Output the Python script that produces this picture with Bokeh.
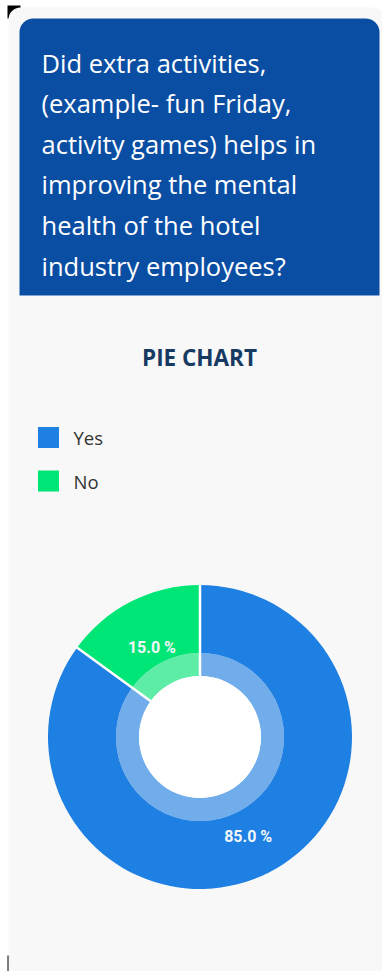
from bokeh.plotting import figure
from bokeh.models import ColumnDataSource, Range1d
from bokeh.core.properties import value
from bokeh.embed import file_html
from bokeh.resources import INLINE
import numpy as np

# ---- data ----
categories = ["Yes", "No"]
percentages = [85.0, 15.0]
colors = ["#1E80E2", "#00E676"]
question_lines = [
    "Did extra activities,",
    "(example- fun Friday,",
    "activity games) helps in",
    "improving the mental",
    "health of the hotel",
    "industry employees?",
]
chart_title = "PIE CHART"

W, H = 382, 971
def Y(py):
    return H - py

p = figure(width=W, height=H, x_range=Range1d(0, W), y_range=Range1d(0, H),
           output_backend="svg", toolbar_location=None, min_border=0)
p.axis.visible = False
p.grid.visible = False
p.outline_line_color = None
p.background_fill_color = "white"
p.border_fill_color = "white"

# phone-corner blacks and card
p.quad(left=[7, 7], right=[20, 20], top=[Y(5), Y(955)], bottom=[Y(18), Y(971)],
       fill_color="black", line_color=None)
p.quad(left=8, right=384, top=Y(7), bottom=Y(985), fill_color="#F8F8F8",
       line_color=None, border_radius=12)

# question box
p.quad(left=19, right=379, top=Y(18), bottom=Y(295), fill_color="#0A4EA3",
       line_color=None, border_radius=[14, 14, 0, 0])
ly = [Y(62 + 40.6 * i) for i in range(len(question_lines))]
p.text(x=[41] * len(question_lines), y=ly, text=question_lines,
       text_font=value("Open Sans"), text_font_size="25.5px", text_color="white",
       text_baseline="middle", text_align="left")

# chart title
p.text(x=[199], y=[Y(357)], text=[chart_title], text_font=value("Open Sans"),
       text_font_size="22.5px", text_font_style="bold", text_color="#173A63",
       text_align="center", text_baseline="middle")

# legend
leg_y = [Y(437 + 43.5 * i) for i in range(len(categories))]
p.scatter(x=[48] * len(categories), y=leg_y, marker="square", size=21,
          fill_color=colors, line_color=None)
p.text(x=[73] * len(categories), y=leg_y, text=categories,
       text_font=value("Open Sans"), text_font_size="18.5px", text_color="#333333",
       text_baseline="middle", text_align="left")

# donut
cx, cy = 199.5, Y(736.5)
pct = np.array(percentages)
cum = np.concatenate([[0], np.cumsum(pct)])
start_cw = np.radians(90 - cum[:-1] * 3.6)
end_cw = np.radians(90 - cum[1:] * 3.6)
mid = (start_cw + end_cw) / 2
src = ColumnDataSource(dict(
    start=end_cw, end=start_cw, color=colors,
    lx=cx + 106 * np.cos(mid), ly=cy + 106 * np.sin(mid),
    label=[f"{v:.1f} %" for v in percentages],
))
p.annular_wedge(x=cx, y=cy, inner_radius=84, outer_radius=152,
                start_angle="start", end_angle="end", fill_color="color",
                line_color=None, source=src)
p.annular_wedge(x=cx, y=cy, inner_radius=61, outer_radius=84,
                start_angle="start", end_angle="end", fill_color="color",
                fill_alpha=0.62, line_color=None, source=src)
p.circle(x=[cx], y=[cy], radius=61, fill_color="white", line_color=None)
# white separators at slice boundaries
bnd = start_cw
p.segment(x0=cx + 60 * np.cos(bnd), y0=cy + 60 * np.sin(bnd),
          x1=cx + 153 * np.cos(bnd), y1=cy + 153 * np.sin(bnd),
          line_color="white", line_width=2.5)
p.text(x="lx", y="ly", text="label", source=src, text_font=value("Roboto"),
       text_font_size="16px", text_font_style="bold", text_color="#F2F6FA",
       text_align="center", text_baseline="middle", y_offset=5)

open("out.html", "w").write(file_html(p, INLINE))
